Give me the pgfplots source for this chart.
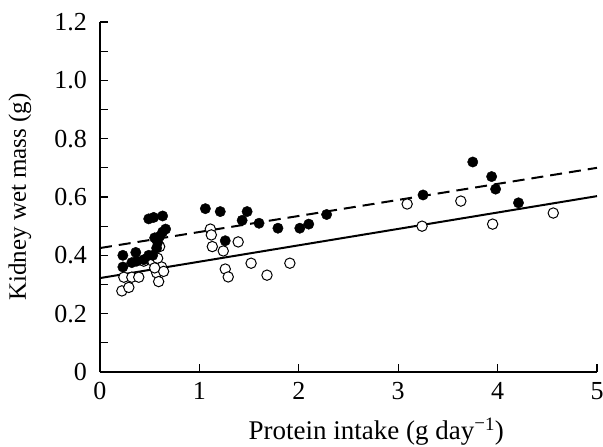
\documentclass[border=0pt]{standalone}
\usepackage{pgfplots}
\pgfplotsset{compat=1.18}
\usepackage{fontspec}
\setmainfont{Liberation Serif}
\begin{document}
\fontsize{26}{31}\selectfont
\begin{tikzpicture}
\begin{axis}[
    scale only axis,
    width=497pt, height=350pt,
    xmin=0, xmax=5, ymin=0, ymax=1.2,
    axis lines*=left,
    axis line style={line width=2pt},
    xtick={0,1,2,3,4,5},
    ytick={0,0.2,0.4,0.6,0.8,1.0,1.2},
    yticklabels={0,0.2,0.4,0.6,0.8,1.0,1.2},
    minor ytick={0.1,0.3,0.5,0.7,0.9,1.1},
    tick align=inside,
    major tick length=8pt, minor tick length=8pt,
    tick style={black, line width=1.2pt},
    /pgf/number format/assume math mode=true,
    tick label style={font=\fontsize{26}{31}\selectfont},
    xlabel={Protein intake (g day\textsuperscript{\raisebox{0.1ex}{−}1})},
    ylabel={Kidney wet mass (g)},
    xlabel style={font=\fontsize{27}{32}\selectfont, at={(axis description cs:0.556,-0.171)}, anchor=center},
    ylabel style={font=\fontsize{25}{30}\selectfont, at={(axis description cs:-0.161,0.5)}, anchor=center},
    xticklabel style={inner sep=0pt, yshift=-10pt},
    yticklabel style={inner sep=0pt, xshift=-13pt},
    clip=false,
]
% open circles
\addplot[only marks, mark=*, mark size=5.2pt, mark options={fill=white, draw=black, line width=1pt}] coordinates {
    (0.22,0.278) (0.29,0.29) (0.24,0.325) (0.32,0.325) (0.39,0.325)
    (0.44,0.38) (0.53,0.38) (0.58,0.39) (0.60,0.43) (0.62,0.36)
    (0.57,0.34) (0.64,0.345) (0.59,0.31) (0.55,0.357)
    (1.11,0.49) (1.12,0.47) (1.13,0.43) (1.24,0.415) (1.39,0.446)
    (1.26,0.353) (1.29,0.326) (1.52,0.373) (1.68,0.332) (1.91,0.373)
    (3.09,0.576) (3.24,0.50) (3.63,0.586) (3.95,0.507) (4.56,0.545)
};
% filled circles
\addplot[only marks, mark=*, mark size=5.2pt, mark options={fill=black, draw=black}] coordinates {
    (0.23,0.40) (0.23,0.36) (0.32,0.375) (0.36,0.41) (0.37,0.38)
    (0.44,0.385) (0.49,0.40) (0.53,0.40) (0.57,0.425) (0.58,0.445)
    (0.55,0.46) (0.60,0.465) (0.63,0.48) (0.66,0.49)
    (0.49,0.525) (0.54,0.53) (0.63,0.535)
    (1.06,0.56) (1.21,0.55) (1.26,0.45) (1.43,0.52) (1.48,0.55)
    (1.60,0.51) (1.79,0.493) (2.01,0.493) (2.10,0.507) (2.28,0.54)
    (3.25,0.607) (3.75,0.72) (3.94,0.67) (3.98,0.627) (4.21,0.58)
};
% regression lines
\addplot[black, line width=2pt, dash pattern=on 12pt off 7pt] coordinates {(0,0.425) (5,0.70)};
\addplot[black, line width=2pt] coordinates {(0,0.322) (5,0.603)};
\coordinate (ll) at (rel axis cs:0,0);
\coordinate (ur) at (rel axis cs:1,1);
\end{axis}
\pgfresetboundingbox
\path[use as bounding box] ([shift={(-100pt,-74pt)}]ll) rectangle ([shift={(6pt,22pt)}]ur);
\end{tikzpicture}
\end{document}
